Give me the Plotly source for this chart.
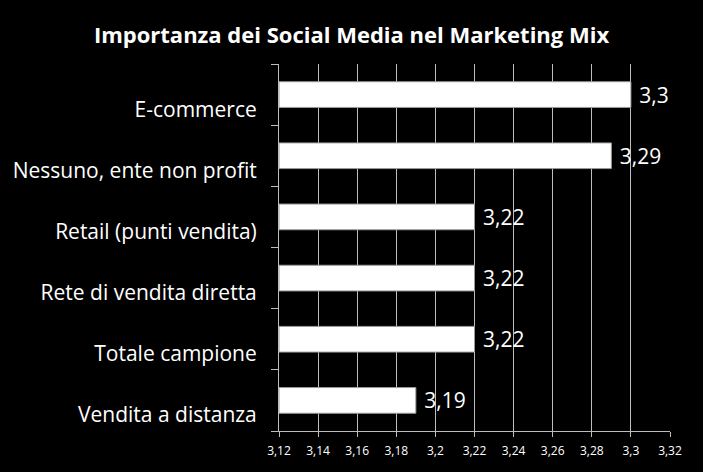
import plotly.graph_objects as go

categories = ["E-commerce", "Nessuno, ente non profit", "Retail (punti vendita)",
              "Rete di vendita diretta", "Totale campione", "Vendita a distanza"]
values = [3.30, 3.29, 3.22, 3.22, 3.22, 3.19]
labels = ["3,3", "3,29", "3,22", "3,22", "3,22", "3,19"]
tick_vals = [3.12, 3.14, 3.16, 3.18, 3.20, 3.22, 3.24, 3.26, 3.28, 3.30, 3.32]
tick_text = ["3,12", "3,14", "3,16", "3,18", "3,2", "3,22", "3,24", "3,26", "3,28", "3,3", "3,32"]
axis_min = 3.12

n = len(categories)
pos = list(range(n))

fig = go.Figure(go.Bar(
    y=pos, x=[v - axis_min for v in values], base=axis_min, orientation="h",
    marker=dict(color="white", line=dict(color="#9a9a9a", width=1)),
    width=0.42,
    text=[" " + t for t in labels], textposition="outside",
    constraintext="none",
    textfont=dict(color="white", size=21, family="Open Sans"),
    cliponaxis=False,
    hovertext=categories,
))

fig.update_layout(
    width=703, height=472,
    margin=dict(l=279, r=33, t=64, b=41),
    paper_bgcolor="black", plot_bgcolor="black",
    title=dict(text="<b>Importanza dei Social Media nel Marketing Mix</b>",
               x=0.5, xanchor="center", y=0.925, yanchor="middle",
               font=dict(color="white", size=22, family="Open Sans")),
    showlegend=False,
)
fig.update_xaxes(range=[3.12, 3.32], tickvals=tick_vals, ticktext=tick_text,
                 showgrid=True, gridcolor="#bdbdbd", gridwidth=1,
                 showline=True, linecolor="#bdbdbd", ticks="outside", ticklen=5,
                 tickcolor="#bdbdbd", ticklabelstandoff=4,
                 tickfont=dict(color="white", size=12, family="Open Sans"),
                 zeroline=False, fixedrange=True, automargin=False)
fig.update_yaxes(range=[n - 0.5, -0.5],
                 tickmode="array", tickvals=[p + 0.24 for p in pos], ticktext=categories,
                 ticks="", showline=True, linecolor="#bdbdbd",
                 minor=dict(tickmode="array", tickvals=[p - 0.5 for p in range(n + 1)],
                            ticks="outside", ticklen=7, tickcolor="#bdbdbd", showgrid=False),
                 tickfont=dict(color="white", size=21, family="Open Sans"),
                 ticklabelstandoff=17,
                 showgrid=False, zeroline=False, fixedrange=True, automargin=False)
fig.write_html("out.html")
